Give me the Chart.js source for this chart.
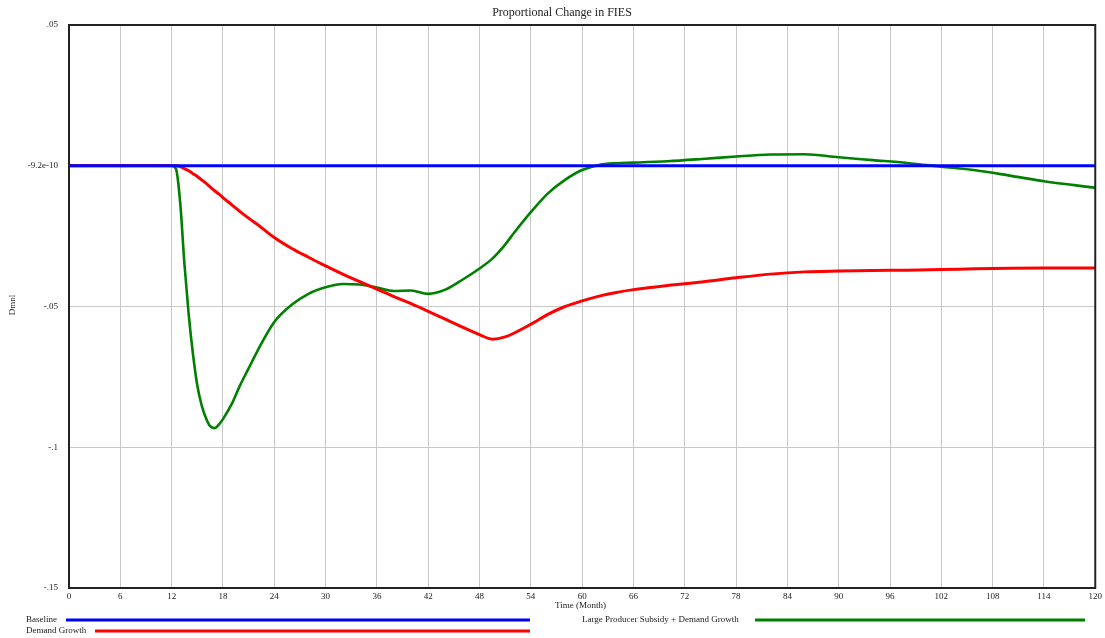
<!DOCTYPE html>
<html>
<head>
<meta charset="utf-8">
<script src="https://cdn.jsdelivr.net/npm/chart.js@4/dist/chart.umd.min.js"></script>
<style>
  html, body { margin: 0; padding: 0; background: #fff; }
  #wrap { width: 1105px; height: 638px; position: relative; }
</style>
</head>
<body>
<div id="wrap"><canvas id="chart" width="1105" height="638"></canvas></div>
<script>
// time points (months)
const months = [0, 6, 12, 12.5, 13, 13.5, 14, 14.5, 15, 15.5, 16, 16.5, 17, 17.5, 18, 19, 20, 21, 22, 24, 26, 28, 30, 32, 34, 36, 38, 40, 42, 44, 46, 48, 49.5, 51, 52, 54, 56, 58, 60, 62, 64, 66, 70, 74, 78, 82, 86, 90, 94, 98, 102, 106, 110, 114, 120];

const baseline = months.map(() => 0);

const demandGrowth = [0, 0, 0, 0, -0.0003, -0.001, -0.0018, -0.0028, -0.0038, -0.005, -0.0062, -0.0075, -0.0088, -0.010, -0.0113, -0.0138, -0.0163, -0.0186, -0.0208, -0.0255, -0.0293, -0.0325, -0.0356, -0.0385, -0.0412, -0.0438, -0.0465, -0.0490, -0.0517, -0.0545, -0.0573, -0.0600, -0.0616, -0.0608, -0.0595, -0.0563, -0.0528, -0.0500, -0.0480, -0.0463, -0.0450, -0.0440, -0.0425, -0.0413, -0.0398, -0.0385, -0.0377, -0.0374, -0.0372, -0.0371, -0.0369, -0.0366, -0.0364, -0.0363, -0.0363];

const subsidyDemand = [0, 0, 0, -0.001, -0.013, -0.035, -0.053, -0.067, -0.078, -0.085, -0.0895, -0.0925, -0.0932, -0.0920, -0.0900, -0.0848, -0.078, -0.072, -0.0660, -0.0555, -0.0495, -0.0455, -0.0432, -0.0420, -0.0422, -0.0433, -0.0445, -0.0443, -0.0455, -0.0440, -0.0405, -0.0365, -0.0330, -0.0280, -0.0240, -0.0165, -0.0098, -0.0050, -0.0015, 0.0003, 0.0009, 0.0011, 0.0016, 0.0024, 0.0033, 0.0040, 0.0041, 0.0030, 0.0020, 0.0010, -0.0003, -0.0016, -0.0035, -0.0055, -0.0078];

const yTickLabels = ['-.15', '-.1', '-.05', '-9.2e-10', '.05'];

const font = 'Liberation Serif, Times New Roman, serif';

function pts(vals) {
    return vals.map((v, i) => ({ x: months[i], y: v }));
}

// frame, title, axis captions and the legend rows under the plot
const decorations = {
    id: 'decorations',
    afterDraw(chart) {
        const ctx = chart.ctx;
        const a = chart.chartArea;
        ctx.save();
        ctx.strokeStyle = '#222';
        ctx.lineWidth = 2;
        ctx.strokeRect(a.left, a.top, a.right - a.left, a.bottom - a.top);

        ctx.fillStyle = '#222';
        ctx.font = '12px ' + font;
        ctx.textAlign = 'center';
        ctx.textBaseline = 'middle';
        ctx.fillText('Proportional Change in FIES', 562, 13);

        ctx.font = '9px ' + font;
        ctx.textAlign = 'left';
        ctx.fillText('Time (Month)', 555, 606);

        ctx.save();
        ctx.translate(13, 305);
        ctx.rotate(-Math.PI / 2);
        ctx.textAlign = 'center';
        ctx.fillText('Dmnl', 0, 0);
        ctx.restore();

        const rows = [
            { ds: 0, x: 26, y: 620, start: 66, end: 530 },
            { ds: 1, x: 26, y: 631, start: 95, end: 530 },
            { ds: 2, x: 582, y: 620, start: 755, end: 1085 }
        ];
        rows.forEach(r => {
            const d = chart.data.datasets[r.ds];
            ctx.fillStyle = '#222';
            ctx.textAlign = 'left';
            ctx.fillText(d.label, r.x, r.y);
            ctx.strokeStyle = d.borderColor;
            ctx.lineWidth = 3;
            ctx.beginPath();
            ctx.moveTo(r.start, r.y);
            ctx.lineTo(r.end, r.y);
            ctx.stroke();
        });
        ctx.restore();
    }
};

new Chart(document.getElementById('chart'), {
    type: 'line',
    data: {
        datasets: [
            {
                label: 'Baseline',
                data: pts(baseline),
                borderColor: '#0000ff',
                borderWidth: 3
            },
            {
                label: 'Demand Growth',
                data: pts(demandGrowth),
                borderColor: '#ff0000',
                borderWidth: 3
            },
            {
                label: 'Large Producer Subsidy + Demand Growth',
                data: pts(subsidyDemand),
                borderColor: '#008000',
                borderWidth: 2.6
            }
        ]
    },
    options: {
        responsive: false,
        animation: false,
        elements: {
            point: { radius: 0 },
            line: { cubicInterpolationMode: 'monotone', fill: false }
        },
        layout: { padding: { top: 25, right: 8, left: 0, bottom: 0 } },
        plugins: {
            legend: { display: false },
            title: { display: false },
            tooltip: { enabled: false }
        },
        scales: {
            x: {
                type: 'linear',
                min: 0,
                max: 120,
                ticks: {
                    stepSize: 6,
                    padding: 3,
                    color: '#222',
                    font: { family: font, size: 9 },
                    maxRotation: 0
                },
                grid: { color: '#c8c8c8', lineWidth: 1, drawTicks: false },
                border: { display: false },
                afterFit(scale) { scale.height = 50; }
            },
            y: {
                min: -0.15,
                max: 0.05,
                ticks: {
                    stepSize: 0.05,
                    padding: 11,
                    color: '#222',
                    font: { family: font, size: 9 },
                    callback: (v, i) => yTickLabels[i]
                },
                grid: { color: '#c8c8c8', lineWidth: 1, drawTicks: false },
                border: { display: false },
                afterFit(scale) { scale.width = 69; }
            }
        }
    },
    plugins: [decorations]
});
</script>
</body>
</html>
